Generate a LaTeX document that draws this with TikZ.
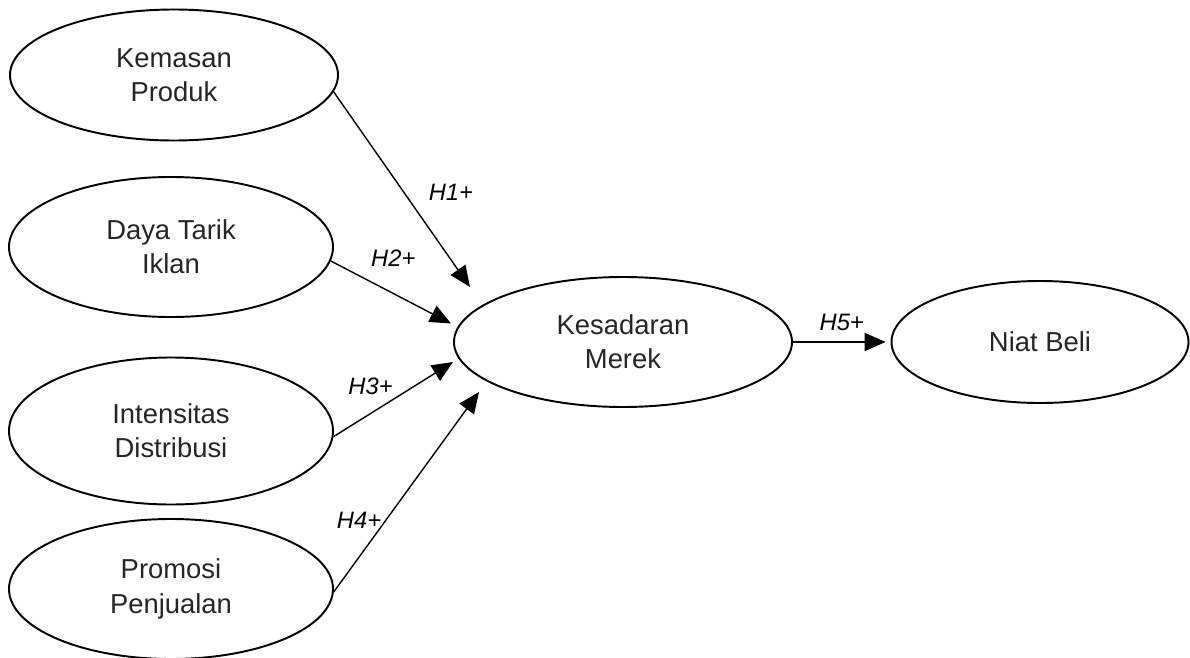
\documentclass[tikz,border=0pt]{standalone}
\usepackage{fontspec}
\setmainfont{Liberation Sans}
\usepackage{tikz}
\usetikzlibrary{shapes.geometric, arrows.meta}
\tikzstyle{construct} = [ellipse, draw=black, line width=1.1pt, minimum width=6.48cm, minimum height=2.8cm, align=center, font=\fontsize{15.6}{19.5}\selectfont, text=black!85]
\tikzstyle{arrow}     = [line width=0.8pt, -{Triangle[length=0.42cm, width=0.36cm]}]
\tikzstyle{hyp}       = [font=\fontsize{13.5}{16}\selectfont\itshape]

\begin{document}
\begin{tikzpicture}[node distance=3.44cm]
    \useasboundingbox (-3.48,1.5) rectangle (20.32,-11.66);
    \node (kemasan)    [construct, minimum width=6.56cm, minimum height=2.62cm] {Kemasan\\Produk};
    \node (daya)       [construct, below of=kemasan, xshift=-0.06cm] {Daya Tarik\\Iklan};
    \node (intensitas) [construct, below of=daya, yshift=-0.24cm, minimum height=2.94cm] {Intensitas\\Distribusi};
    \node (promosi)    [construct, below of=intensitas, yshift=0.28cm] {Promosi\\Penjualan};
    \node (kesadaran)  [construct, right of=daya, xshift=5.6cm, yshift=-1.9cm, minimum width=6.76cm, minimum height=2.6cm] {Kesadaran\\Merek};
    \node (niat)       [construct, right of=kesadaran, xshift=4.9cm, minimum width=5.94cm, minimum height=2.44cm] {Niat Beli};

    % arrow tips in front of Kesadaran Merek
    \coordinate (tip1) at ([shift={(-3.06,1.10)}]kesadaran.center);
    \coordinate (tip2) at ([shift={(-3.44,0.37)}]kesadaran.center);
    \coordinate (tip3) at ([shift={(-3.40,-0.40)}]kesadaran.center);
    \coordinate (tip4) at ([shift={(-2.88,-1.00)}]kesadaran.center);

    % arrows
    \draw [arrow] (kemasan.-6)    -- (tip1) node[hyp, pos=0.515, xshift=0.94cm] {H1+};
    \draw [arrow] (daya.-5)       -- (tip2) node[hyp, pos=0.52, yshift=0.7cm] {H2+};
    \draw [arrow] (intensitas.-2) -- (tip3) node[hyp, pos=0.31, yshift=0.54cm] {H3+};
    \draw [arrow] (promosi.-1)    -- (tip4) node[hyp, pos=0.36, xshift=-0.54cm] {H4+};
    \draw [arrow, line width=1.2pt, shorten >=0.1cm] (kesadaran.east) -- (niat.west) node[hyp, pos=0.5, yshift=0.4cm] {H5+};
\end{tikzpicture}
\end{document}
